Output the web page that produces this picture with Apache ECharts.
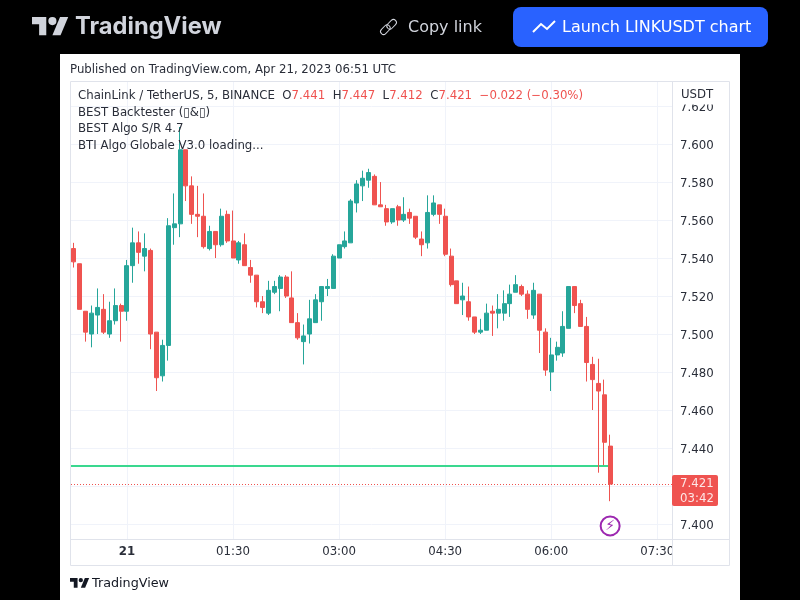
<!DOCTYPE html>
<html>
<head>
<meta charset="utf-8">
<title>LINKUSDT</title>
<script src="https://cdn.jsdelivr.net/npm/echarts@6/dist/echarts.min.js"></script>
<style>
html, body { margin: 0; padding: 0; background: #000; }
#panel { position: absolute; left: 60px; top: 54px; width: 680px; height: 546px; background: #fff; }
#main { position: absolute; left: 0; top: 0; width: 800px; height: 600px; }
</style>
</head>
<body>
<div id="panel"></div>
<div id="main"></div>
<script>
// 5 minute candles
var opens = [
    7.545, 7.537, 7.512, 7.500, 7.510, 7.513, 7.500, 7.507, 7.515, 7.512,
    7.536, 7.548, 7.541, 7.544, 7.501, 7.478, 7.494, 7.556, 7.558, 7.597,
    7.578, 7.563, 7.562, 7.545, 7.554, 7.547, 7.563, 7.549, 7.539, 7.547,
    7.535, 7.531, 7.517, 7.511, 7.522, 7.524, 7.530, 7.519, 7.506, 7.496,
    7.500, 7.506, 7.517, 7.524, 7.524, 7.540, 7.546, 7.548, 7.569, 7.578,
    7.581, 7.583, 7.568, 7.566, 7.559, 7.567, 7.560, 7.564, 7.562, 7.550,
    7.548, 7.563, 7.568, 7.562, 7.541, 7.528, 7.518, 7.517, 7.509, 7.501,
    7.502, 7.512, 7.511, 7.511, 7.516, 7.522, 7.525, 7.521, 7.510, 7.521,
    7.501, 7.480, 7.489, 7.490, 7.503, 7.525, 7.516, 7.504, 7.484, 7.474,
    7.468, 7.441
];
var closes = [
    7.538, 7.513, 7.501, 7.511, 7.514, 7.501, 7.507, 7.515, 7.512, 7.536,
    7.548, 7.543, 7.545, 7.500, 7.477, 7.494, 7.557, 7.558, 7.597, 7.578,
    7.563, 7.562, 7.546, 7.554, 7.547, 7.562, 7.549, 7.540, 7.548, 7.536,
    7.531, 7.517, 7.514, 7.523, 7.525, 7.530, 7.520, 7.506, 7.498, 7.499,
    7.508, 7.518, 7.525, 7.525, 7.541, 7.547, 7.549, 7.570, 7.579, 7.582,
    7.585, 7.568, 7.567, 7.559, 7.566, 7.560, 7.563, 7.561, 7.551, 7.547,
    7.564, 7.569, 7.563, 7.542, 7.526, 7.516, 7.520, 7.509, 7.501, 7.502,
    7.511, 7.511, 7.513, 7.516, 7.521, 7.526, 7.521, 7.513, 7.523, 7.502,
    7.481, 7.489, 7.493, 7.504, 7.525, 7.515, 7.504, 7.485, 7.476, 7.470,
    7.443, 7.421
];
var lows = [
    7.535, 7.513, 7.496, 7.493, 7.500, 7.500, 7.498, 7.505, 7.496, 7.507,
    7.527, 7.537, 7.533, 7.492, 7.470, 7.475, 7.486, 7.547, 7.551, 7.570,
    7.558, 7.551, 7.545, 7.544, 7.540, 7.546, 7.548, 7.540, 7.537, 7.536,
    7.527, 7.514, 7.511, 7.510, 7.521, 7.512, 7.519, 7.506, 7.497, 7.484,
    7.495, 7.506, 7.507, 7.520, 7.524, 7.540, 7.545, 7.548, 7.564, 7.570,
    7.577, 7.568, 7.567, 7.557, 7.558, 7.557, 7.559, 7.558, 7.550, 7.541,
    7.545, 7.562, 7.558, 7.541, 7.525, 7.516, 7.510, 7.507, 7.500, 7.500,
    7.502, 7.499, 7.503, 7.507, 7.509, 7.522, 7.520, 7.508, 7.508, 7.490,
    7.478, 7.470, 7.486, 7.488, 7.503, 7.511, 7.504, 7.475, 7.460, 7.427,
    7.431, 7.412
];
var highs = [
    7.548, 7.537, 7.512, 7.515, 7.524, 7.521, 7.517, 7.524, 7.516, 7.539,
    7.556, 7.554, 7.553, 7.545, 7.501, 7.497, 7.561, 7.574, 7.609, 7.597,
    7.583, 7.578, 7.574, 7.557, 7.554, 7.566, 7.565, 7.565, 7.549, 7.553,
    7.539, 7.531, 7.520, 7.528, 7.528, 7.531, 7.531, 7.533, 7.511, 7.505,
    7.518, 7.521, 7.525, 7.529, 7.542, 7.547, 7.554, 7.571, 7.581, 7.586,
    7.587, 7.584, 7.580, 7.568, 7.566, 7.568, 7.572, 7.566, 7.562, 7.554,
    7.573, 7.573, 7.568, 7.566, 7.545, 7.528, 7.527, 7.525, 7.509, 7.508,
    7.516, 7.515, 7.521, 7.523, 7.526, 7.531, 7.526, 7.523, 7.527, 7.521,
    7.503, 7.498, 7.496, 7.512, 7.525, 7.525, 7.518, 7.509, 7.488, 7.487,
    7.476, 7.447
];

var priceTicks = [7.4, 7.42, 7.44, 7.46, 7.48, 7.5, 7.52, 7.54, 7.56, 7.58, 7.6, 7.62];
var timeTickIndexes = [9, 27, 45, 63, 81, 99];
var timeTickLabels = ["{b|21}", "01:30", "03:00", "04:30", "06:00", "07:30"];
var levelPrice = 7.4305;
var lastClose = 7.421;
var boltPrice = 7.399;

var textColor = "#2a2e39";
var frameColor = "#e0e3eb";
var gridColor = "#f0f3fa";
var upColor = "#26a69a";
var downColor = "#ef5350";
var fontName = "'DejaVu Sans'";

// 类目轴：每根K线一格，右边留空到 07:30 之后
var categories = [];
for (var i = 0; i < 102; i++) {
    var minutes = (23 * 60 + 15 + i * 5) % 1440;
    categories.push(String(Math.floor(minutes / 60)).padStart(2, "0") + ":" + String(minutes % 60).padStart(2, "0"));
}

var candles = [];
for (var j = 0; j < opens.length; j++) {
    candles.push([opens[j], closes[j], lows[j], highs[j]]);
}

function isTimeTick(index) {
    return timeTickIndexes.indexOf(index) >= 0;
}

function text(x, y, str, size, color, extra) {
    var style = { text: str, x: x, y: y, fill: color, font: size + "px " + fontName, textVerticalAlign: "middle" };
    for (var key in extra) {
        style[key] = extra[key];
    }
    return { type: "text", z: 110, silent: true, style: style };
}

// TV 标志：两块多边形加一个圆
function logo(x, y, s, color) {
    function pts(list) {
        return list.map(function (p) { return [x + p[0] * s, y + p[1] * s]; });
    }
    return [
        { type: "polygon", z: 110, shape: { points: pts([[0, 0], [14, 0], [14, 18], [7, 18], [7, 7], [0, 7]]) }, style: { fill: color } },
        { type: "polygon", z: 110, shape: { points: pts([[20, 18], [28, 18], [35.5, 0], [27.5, 0]]) }, style: { fill: color } },
        { type: "circle", z: 110, shape: { cx: x + 20 * s, cy: y + 4 * s, r: 4 * s }, style: { fill: color } }
    ];
}

function headerGraphics() {
    return logo(32, 17, 1.02, "#d1d4dc").concat([
        text(75, 27, "TradingView", 24, "#d1d4dc", { font: "bold 23.7px Inter" }),
        { type: "rect", z: 110, shape: { x: 380, y: 27, width: 11, height: 6, r: 3 }, rotation: Math.PI / 4, originX: 385, originY: 30,
          style: { fill: "none", stroke: "#d1d4dc", lineWidth: 1 } },
        { type: "rect", z: 110, shape: { x: 386, y: 21, width: 11, height: 6, r: 3 }, rotation: Math.PI / 4, originX: 392, originY: 24,
          style: { fill: "none", stroke: "#d1d4dc", lineWidth: 1 } },
        text(408, 28, "Copy link", 16, "#d1d4dc"),
        { type: "rect", z: 110, shape: { x: 513, y: 7, width: 255, height: 40, r: 8 }, style: { fill: "#2962ff" } },
        { type: "polyline", z: 111, shape: { points: [[533, 32], [541, 24], [547, 29], [555, 21]] }, style: { fill: "none", stroke: "#fff", lineWidth: 2 } },
        text(562, 28, "Launch LINKUSDT chart", 16, "#fff")
    ]);
}

function frameGraphics() {
    return [
        { type: "rect", z: 100, shape: { x: 673, y: 82, width: 57, height: 22.5 }, style: { fill: "#fff" } },
        { type: "rect", z: 100, shape: { x: 672.5, y: 540, width: 57, height: 26 }, style: { fill: "#fff" } },
        { type: "line", z: 101, shape: { x1: 672.5, y1: 81, x2: 672.5, y2: 566 }, style: { stroke: frameColor, lineWidth: 1 } },
        { type: "line", z: 101, shape: { x1: 70, y1: 539.5, x2: 730, y2: 539.5 }, style: { stroke: frameColor, lineWidth: 1 } },
        { type: "rect", z: 101, shape: { x: 70.5, y: 81.5, width: 659, height: 484 }, style: { fill: "none", stroke: frameColor, lineWidth: 1 } }
    ];
}

function legendGraphics() {
    return [
        text(70, 70, "Published on TradingView.com, Apr 21, 2023 06:51 UTC", 11.75, textColor),
        text(78, 96, "ChainLink / TetherUS, 5, BINANCE  O{v|7.441}  H{v|7.447}  L{v|7.412}  C{v|7.421}  {v|\u22120.022 (\u22120.30%)}", 11.75, textColor, {
            rich: { v: { fill: downColor, font: "11.75px " + fontName } }
        }),
        text(78, 113, "BEST Backtester (\u25AF&\u25AF)", 11.75, textColor),
        text(78, 129, "BEST Algo S/R 4.7", 11.75, textColor),
        text(78, 146, "BTI Algo Globale V3.0 loading...", 11.75, textColor),
        text(681, 95, "USDT", 11.75, textColor),
        { type: "rect", z: 105, shape: { x: 672, y: 475, width: 46, height: 31, r: 2 }, style: { fill: downColor } },
        text(680, 484, "7.421", 11.75, "#fde6e5"),
        text(680, 499, "03:42", 11.75, "#fde6e5"),
        text(92, 584, "TradingView", 12.75, "#131722")
    ].concat(logo(70, 578, 0.54, "#131722"));
}

var myChart = echarts.init(document.getElementById("main"), null, { renderer: "canvas" });

var option = {
    animation: false,
    backgroundColor: "transparent",
    grid: { left: 71, right: 128, top: 81, bottom: 61 },
    xAxis: {
        type: "category",
        data: categories,
        boundaryGap: true,
        axisLine: { show: false },
        axisTick: { show: false },
        splitLine: {
            show: true,
            alignWithLabel: true,
            interval: function (index) { return isTimeTick(index); },
            lineStyle: { color: gridColor, width: 1 }
        },
        axisLabel: {
            interval: function (index) { return isTimeTick(index); },
            formatter: function (value, index) { return timeTickLabels[timeTickIndexes.indexOf(index)]; },
            margin: 7,
            color: textColor,
            fontFamily: "DejaVu Sans",
            fontSize: 11.75,
            rich: { b: { fontWeight: "bold", fontFamily: "DejaVu Sans", fontSize: 11.75, color: textColor } }
        }
    },
    yAxis: {
        type: "value",
        position: "right",
        min: 7.3921,
        max: 7.6332,
        axisLine: { show: false },
        axisTick: { show: false, customValues: priceTicks },
        splitLine: { show: true, lineStyle: { color: gridColor, width: 1 } },
        axisLabel: {
            customValues: priceTicks,
            formatter: function (value) { return "{p|" + value.toFixed(3) + "}"; },
            margin: 8,
            color: textColor,
            fontFamily: "DejaVu Sans",
            fontSize: 11.75,
            rich: { p: { padding: [3, 0, 0, 0], color: textColor, fontFamily: "DejaVu Sans", fontSize: 11.75 } }
        }
    },
    series: [{
        type: "candlestick",
        data: candles,
        barWidth: 4.5,
        z: 3,
        itemStyle: {
            color: upColor,
            color0: downColor,
            borderColor: upColor,
            borderColor0: downColor,
            borderWidth: 1
        },
        markLine: {
            silent: true,
            symbol: "none",
            z: 2,
            label: { show: false },
            data: [
                [
                    { x: 71, xAxis: 0, yAxis: lastClose, lineStyle: { color: downColor, width: 1, type: [1, 2] } },
                    { xAxis: 101, x: 672, yAxis: lastClose }
                ],
                [
                    { x: 71, yAxis: levelPrice, xAxis: 0, lineStyle: { color: "#3ad88f", width: 2, type: "solid" } },
                    { xAxis: 91, yAxis: levelPrice }
                ]
            ]
        },
        markPoint: {
            silent: true,
            symbol: "circle",
            symbolSize: 19,
            itemStyle: { color: "#fff", borderColor: "#9c27b0", borderWidth: 2 },
            label: { show: true, position: "inside", formatter: "\u26A1", color: "#9c27b0", fontSize: 14, fontFamily: "DejaVu Sans" },
            data: [{ coord: [91, boltPrice] }]
        }
    }],
    graphic: { elements: headerGraphics().concat(frameGraphics(), legendGraphics()) }
};

myChart.setOption(option);
</script>
</body>
</html>
